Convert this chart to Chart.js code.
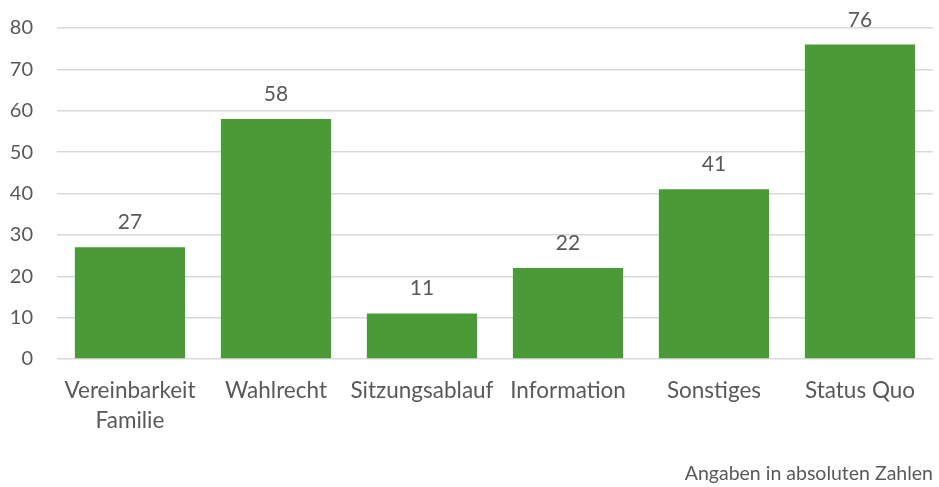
<!DOCTYPE html>
<html>
<head>
<meta charset="utf-8">
<script src="https://cdn.jsdelivr.net/npm/chart.js@4/dist/chart.umd.min.js"></script>
<style>
  html, body { margin: 0; padding: 0; background: #fff; }
  #wrap { width: 939px; height: 487px; }
</style>
</head>
<body>
<div id="wrap"><canvas id="myChart"></canvas></div>
<script>
// chart data
const categories = [["Vereinbarkeit", "Familie"], "Wahlrecht", "Sitzungsablauf", "Information", "Sonstiges", "Status Quo"];
const values = [27, 58, 11, 22, 41, 76];
const yTicks = [0, 10, 20, 30, 40, 50, 60, 70, 80];

const textColor = '#595959';
const gridColor = '#d9d9d9';
const barColor = '#4a9a38';

// draws the number above every bar
const valueLabels = {
    id: 'valueLabels',
    afterDatasetsDraw(chart) {
        const ctx = chart.ctx;
        const meta = chart.getDatasetMeta(0);
        ctx.save();
        ctx.font = '21px Lato';
        ctx.fillStyle = textColor;
        ctx.textAlign = 'center';
        ctx.textBaseline = 'alphabetic';
        meta.data.forEach((bar, i) => {
            ctx.fillText(String(values[i]), bar.x, bar.y - 18);
        });
        ctx.restore();
    }
};

const ctx = document.getElementById('myChart').getContext('2d');
new Chart(ctx, {
    type: 'bar',
    data: {
        labels: categories,
        datasets: [{
            data: values,
            backgroundColor: barColor,
            borderWidth: 0,
            categoryPercentage: 1,
            barPercentage: 0.755,
        }],
    },
    options: {
        responsive: true,
        maintainAspectRatio: false,
        animation: false,
        layout: { padding: { top: 28, right: 6, left: 0, bottom: 0 } },
        plugins: {
            legend: { display: false },
            tooltip: { enabled: false },
            title: {
                display: true,
                position: 'bottom',
                align: 'end',
                text: 'Angaben in absoluten Zahlen',
                color: textColor,
                font: { family: 'Lato', size: 19.5, weight: 'normal' },
                padding: { top: 11, bottom: 1.6 },
            },
        },
        scales: {
            x: {
                grid: { display: false },
                border: { display: false },
                ticks: {
                    color: textColor,
                    font: { family: 'Lato', size: 22.5, lineHeight: 1.33 },
                    padding: 9,
                    maxRotation: 0,
                    autoSkip: false,
                },
                afterFit(scale) { scale.height = 92; },
            },
            y: {
                min: 0,
                max: 80,
                afterBuildTicks(scale) { scale.ticks = yTicks.map(v => ({ value: v })); },
                grid: { color: gridColor, lineWidth: 1.5, drawTicks: true, tickLength: 24, tickColor: 'rgba(0,0,0,0)' },
                border: { display: false },
                ticks: {
                    color: textColor,
                    font: { family: 'Lato', size: 20 },
                    padding: 0,
                },
                afterFit(scale) { scale.width = 57; },
            },
        },
    },
    plugins: [valueLabels],
});
</script>
</body>
</html>
